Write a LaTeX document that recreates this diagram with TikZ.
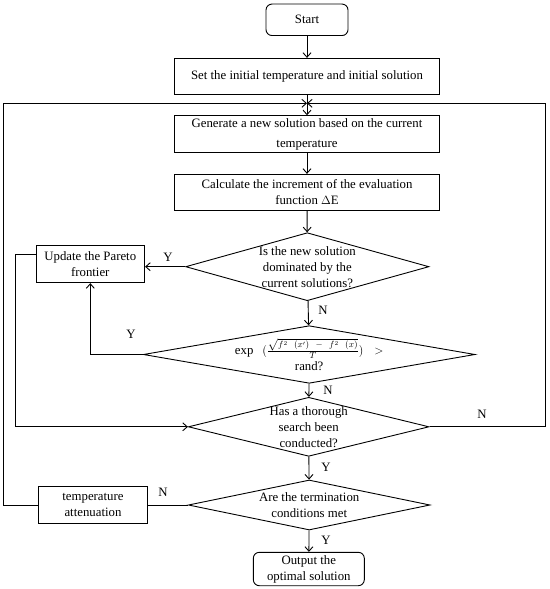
\documentclass[tikz,border=0pt]{standalone}
\usepackage{fontspec}
\setmainfont{Liberation Serif}
\usetikzlibrary{shapes.geometric,arrows.meta}
\begin{document}
\begin{tikzpicture}[x=1bp,y=-1bp,
  font=\fontsize{12.8bp}{16bp}\selectfont,
  every path/.style={line width=0.9pt},
  box/.style={draw, rectangle, inner sep=1pt, align=center},
  rbox/.style={box, rounded corners=6bp},
  dia/.style={draw, diamond, inner sep=0pt},
  arr/.style={-{Straight Barb[length=4.5bp,width=8bp]}},
  lbl/.style={inner sep=0pt}]
\useasboundingbox (0,0) rectangle (550,589);
\node[rbox, minimum width=82bp, minimum height=31.5bp] (start) at (307,19.8) {Start};
\node[box, minimum width=265bp, minimum height=35.7bp] (set) at (307,76.2) {Set the initial temperature and initial solution};
\node[box, minimum width=265bp, minimum height=36.6bp] (gen) at (307,134) {Generate a new solution based on the current\\[4bp]temperature};
\node[box, minimum width=265bp, minimum height=36bp] (calc) at (307,192.3) {Calculate the increment of the evaluation\\function $\Delta$E};
\node[dia, minimum width=243.3bp, minimum height=68bp] (d1) at (307.3,266.7) {};
\node[align=center] at (d1) {Is the new solution\\dominated by the\\current solutions?};
\node[box, minimum width=108.7bp, minimum height=37bp] (par) at (90.3,264.2) {Update the Pareto\\frontier};
\node[dia, minimum width=331.7bp, minimum height=57.6bp] (d2) at (309.2,354.5) {};
\node[align=center] at (d2) {exp\hspace{9bp}$(\frac{\sqrt{f^2\ \ (x')\ \ -\ \ f^2\ \ (x)}}{T})$\hspace{11bp}$>$\\rand?};
\node[dia, minimum width=240.7bp, minimum height=59bp] (d3) at (308.7,426.8) {};
\node[align=center] at (d3) {Has a thorough\\search been\\conducted?};
\node[dia, minimum width=241.7bp, minimum height=50bp] (d4) at (309.2,505) {};
\node[align=center] at (d4) {Are the termination\\conditions met};
\node[box, minimum width=109.4bp, minimum height=36.6bp] (temp) at (93,505) {temperature\\attenuation};
\node[rbox, minimum width=111bp, minimum height=33.4bp] (out) at (308.8,569) {Output the\\optimal solution};
\coordinate (join) at (307,103.3);
\coordinate (ltop) at (3.3,103.3);
\coordinate (rtop) at (545,103.3);
\coordinate (pl) at (0,254);
\coordinate (lx) at (15,0);
\draw[arr] (start) -- (set);
\draw[arr] (set) -- (gen);
\draw[arr] (gen) -- (calc);
\draw[arr] (calc) -- (d1);
\draw[arr] (d1.west) -- (d1.west -| par.east);
\draw[arr] (d1) -- (d2);
\draw[arr] (d2.west) -| (par.south);
\draw[arr] (pl -| par.west) -- (pl -| lx) -- (d3.west -| lx) -- (d3.west);
\draw[arr] (d2) -- (d3);
\draw[arr] (d3) -- (d4);
\draw (d4.west) -- (temp.east);
\draw[arr] (d4) -- (out);
\draw[arr] (temp.west) -| (ltop) -- (join);
\draw[arr] (d3.east) -| (rtop) -- (join);
\node[lbl] at (168,257) {Y};
\node[lbl] at (323,310) {N};
\node[lbl] at (131,334) {Y};
\node[lbl] at (328,390) {N};
\node[lbl] at (482,414) {N};
\node[lbl] at (326,467) {Y};
\node[lbl] at (163,492) {N};
\node[lbl] at (326,540) {Y};
\end{tikzpicture}
\end{document}
